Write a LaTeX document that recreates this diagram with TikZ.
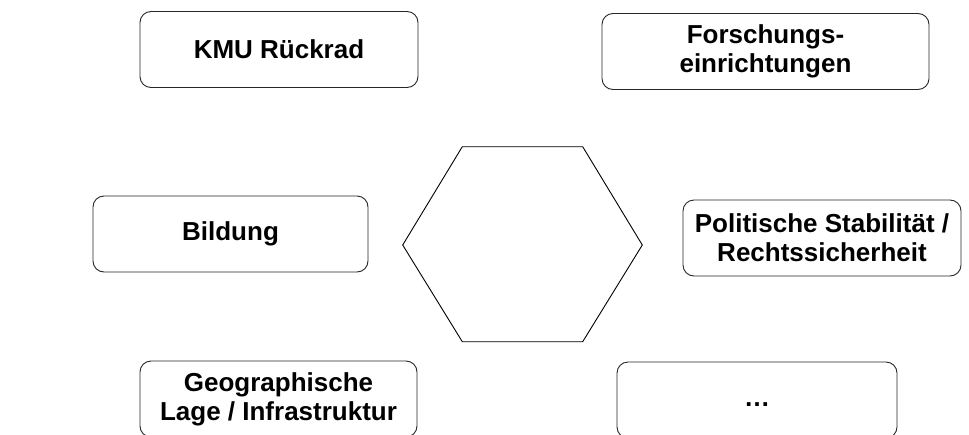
\documentclass[tikz,border=0pt]{standalone}
\usepackage{fontspec}
\setmainfont{Liberation Sans}

\begin{document}
\begin{tikzpicture}[x=1pt, y=-1pt,
    factor/.style={draw=black!85, line width=0.9pt, rounded corners=11pt,
        minimum height=76pt, align=center, inner sep=2pt,
        font=\fontsize{26}{29}\selectfont\bfseries}]
            \useasboundingbox (0, 0) rectangle (969, 434);
            \clip (0, 0) rectangle (969, 434);

            \node[factor, minimum width=278pt] (kmu) at (279, 49.5) {KMU Rückrad};
            \node[factor, minimum width=327pt] (forschung) at (765.5, 51.5) {Forschungs-\\einrichtungen};
            \node[factor, minimum width=275pt] (bildung) at (230.5, 234) {Bildung};
            \node[factor, minimum width=278pt] (politik) at (822, 238) {Politische Stabilität /\\Rechtssicherheit};
            \node[factor, minimum width=277pt] (lage) at (278.5, 399) {Geographische\\Lage / Infrastruktur};
            \node[factor, minimum width=280pt] (rest) at (757, 400) {\vphantom{Bg}…};

            \draw[line width=0.9pt, line join=miter] (402.7, 245) -- (462.3, 146.7) -- (582.7, 146.7)
                -- (642.3, 245) -- (582.7, 341.7) -- (462.3, 341.7) -- cycle;
\end{tikzpicture}
\end{document}
